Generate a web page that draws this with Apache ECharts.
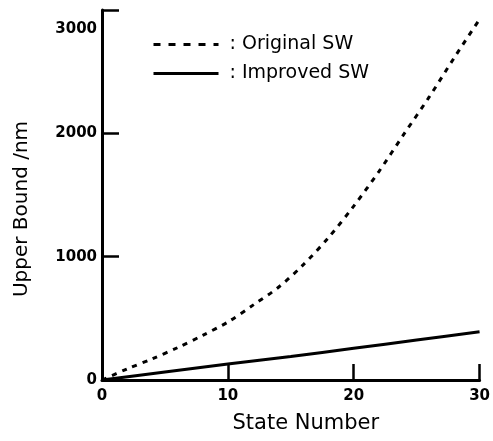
<!DOCTYPE html>
<html>
<head>
<meta charset="utf-8">
<script src="https://cdn.jsdelivr.net/npm/echarts@6/dist/echarts.min.js"></script>
<style>
html,body{margin:0;padding:0;background:#fff;}
#chart{width:493px;height:441px;}
</style>
</head>
<body>
<div id="chart"></div>
<script>
// Data
const stateOriginal = [0, 2, 4, 6, 8, 10, 12, 14, 16, 18, 20, 22, 24, 26, 28, 30];
const originalSW   = [0, 90, 172, 262, 362, 470, 607, 750, 935, 1155, 1410, 1690, 1995, 2295, 2615, 2925];
const stateImproved = [0, 5, 10, 15, 20, 25, 30];
const improvedSW    = [0, 65, 130, 190, 257, 324, 392];
const xTicks = [0, 10, 20, 30];
const yTicks = [0, 1000, 2000, 3000];
const seriesNames = ['Original SW', 'Improved SW'];
const xTitle = 'State Number';
const yTitle = 'Upper Bound /nm';

const pairs = (xs, ys) => xs.map((x, i) => [x, ys[i]]);
const FONT = 'DejaVu Sans';

const chart = echarts.init(document.getElementById('chart'), null, {renderer: 'canvas'});
chart.setOption({
  animation: false,
  backgroundColor: '#fff',
  color: ['#000', '#000'],
  grid: {left: 102, right: 10, top: 10, bottom: 61, containLabel: false},
  legend: {
    orient: 'vertical',
    left: 147,
    top: 30,
    itemWidth: 65,
    itemHeight: 14,
    itemGap: 10,
    formatter: ': {name}',
    itemStyle: {opacity: 0},
    textStyle: {fontFamily: FONT, fontSize: 19, color: '#000', padding: [0, 0, 0, 6]},
    data: [
      {name: seriesNames[0], lineStyle: {type: [7, 8], width: 3}},
      {name: seriesNames[1], lineStyle: {width: 3}}
    ]
  },
  xAxis: {
    type: 'value',
    min: 0, max: 30, interval: 10,
    name: xTitle,
    nameLocation: 'middle',
    nameGap: 33,
    nameTextStyle: {fontFamily: FONT, fontSize: 21, color: '#000', padding: [0, 0, 0, 30]},
    axisLine: {show: true, lineStyle: {color: '#000', width: 3}},
    axisTick: {show: true, inside: true, length: 16, lineStyle: {color: '#000', width: 2.5}},
    axisLabel: {fontFamily: FONT, fontSize: 15, fontWeight: 'bold', color: '#000', margin: 9,
      formatter: v => xTicks.includes(v) ? String(v) : ''},
    splitLine: {show: false}
  },
  yAxis: {
    type: 'value',
    min: 0, max: 3000, interval: 1000,
    name: yTitle,
    nameLocation: 'middle',
    nameGap: 70,
    nameTextStyle: {fontFamily: FONT, fontSize: 20, color: '#000', padding: [0, 28, 0, 0]},
    axisLine: {show: true, lineStyle: {color: '#000', width: 3}},
    axisTick: {show: true, inside: true, length: 17, lineStyle: {color: '#000', width: 2.5}},
    axisLabel: {fontFamily: FONT, fontSize: 15, fontWeight: 'bold', color: '#000', margin: 5,
      formatter: v => yTicks.includes(v) ? (v === 3000 ? '{t|' + v + '}' : String(v)) : '',
      rich: {t: {fontFamily: FONT, fontSize: 15, fontWeight: 'bold', color: '#000', padding: [38, 0, 0, 0]}}
    },
    splitLine: {show: false}
  },
  series: [
    {
      name: seriesNames[0],
      type: 'line',
      data: pairs(stateOriginal, originalSW),
      smooth: 0.3,
      symbol: 'none',
      itemStyle: {color: '#000'},
      lineStyle: {color: '#000', width: 3, type: [5, 6]}
    },
    {
      name: seriesNames[1],
      type: 'line',
      data: pairs(stateImproved, improvedSW),
      smooth: 0.3,
      symbol: 'none',
      itemStyle: {color: '#000'},
      lineStyle: {color: '#000', width: 3, type: 'solid'}
    }
  ]
});
</script>
</body>
</html>
